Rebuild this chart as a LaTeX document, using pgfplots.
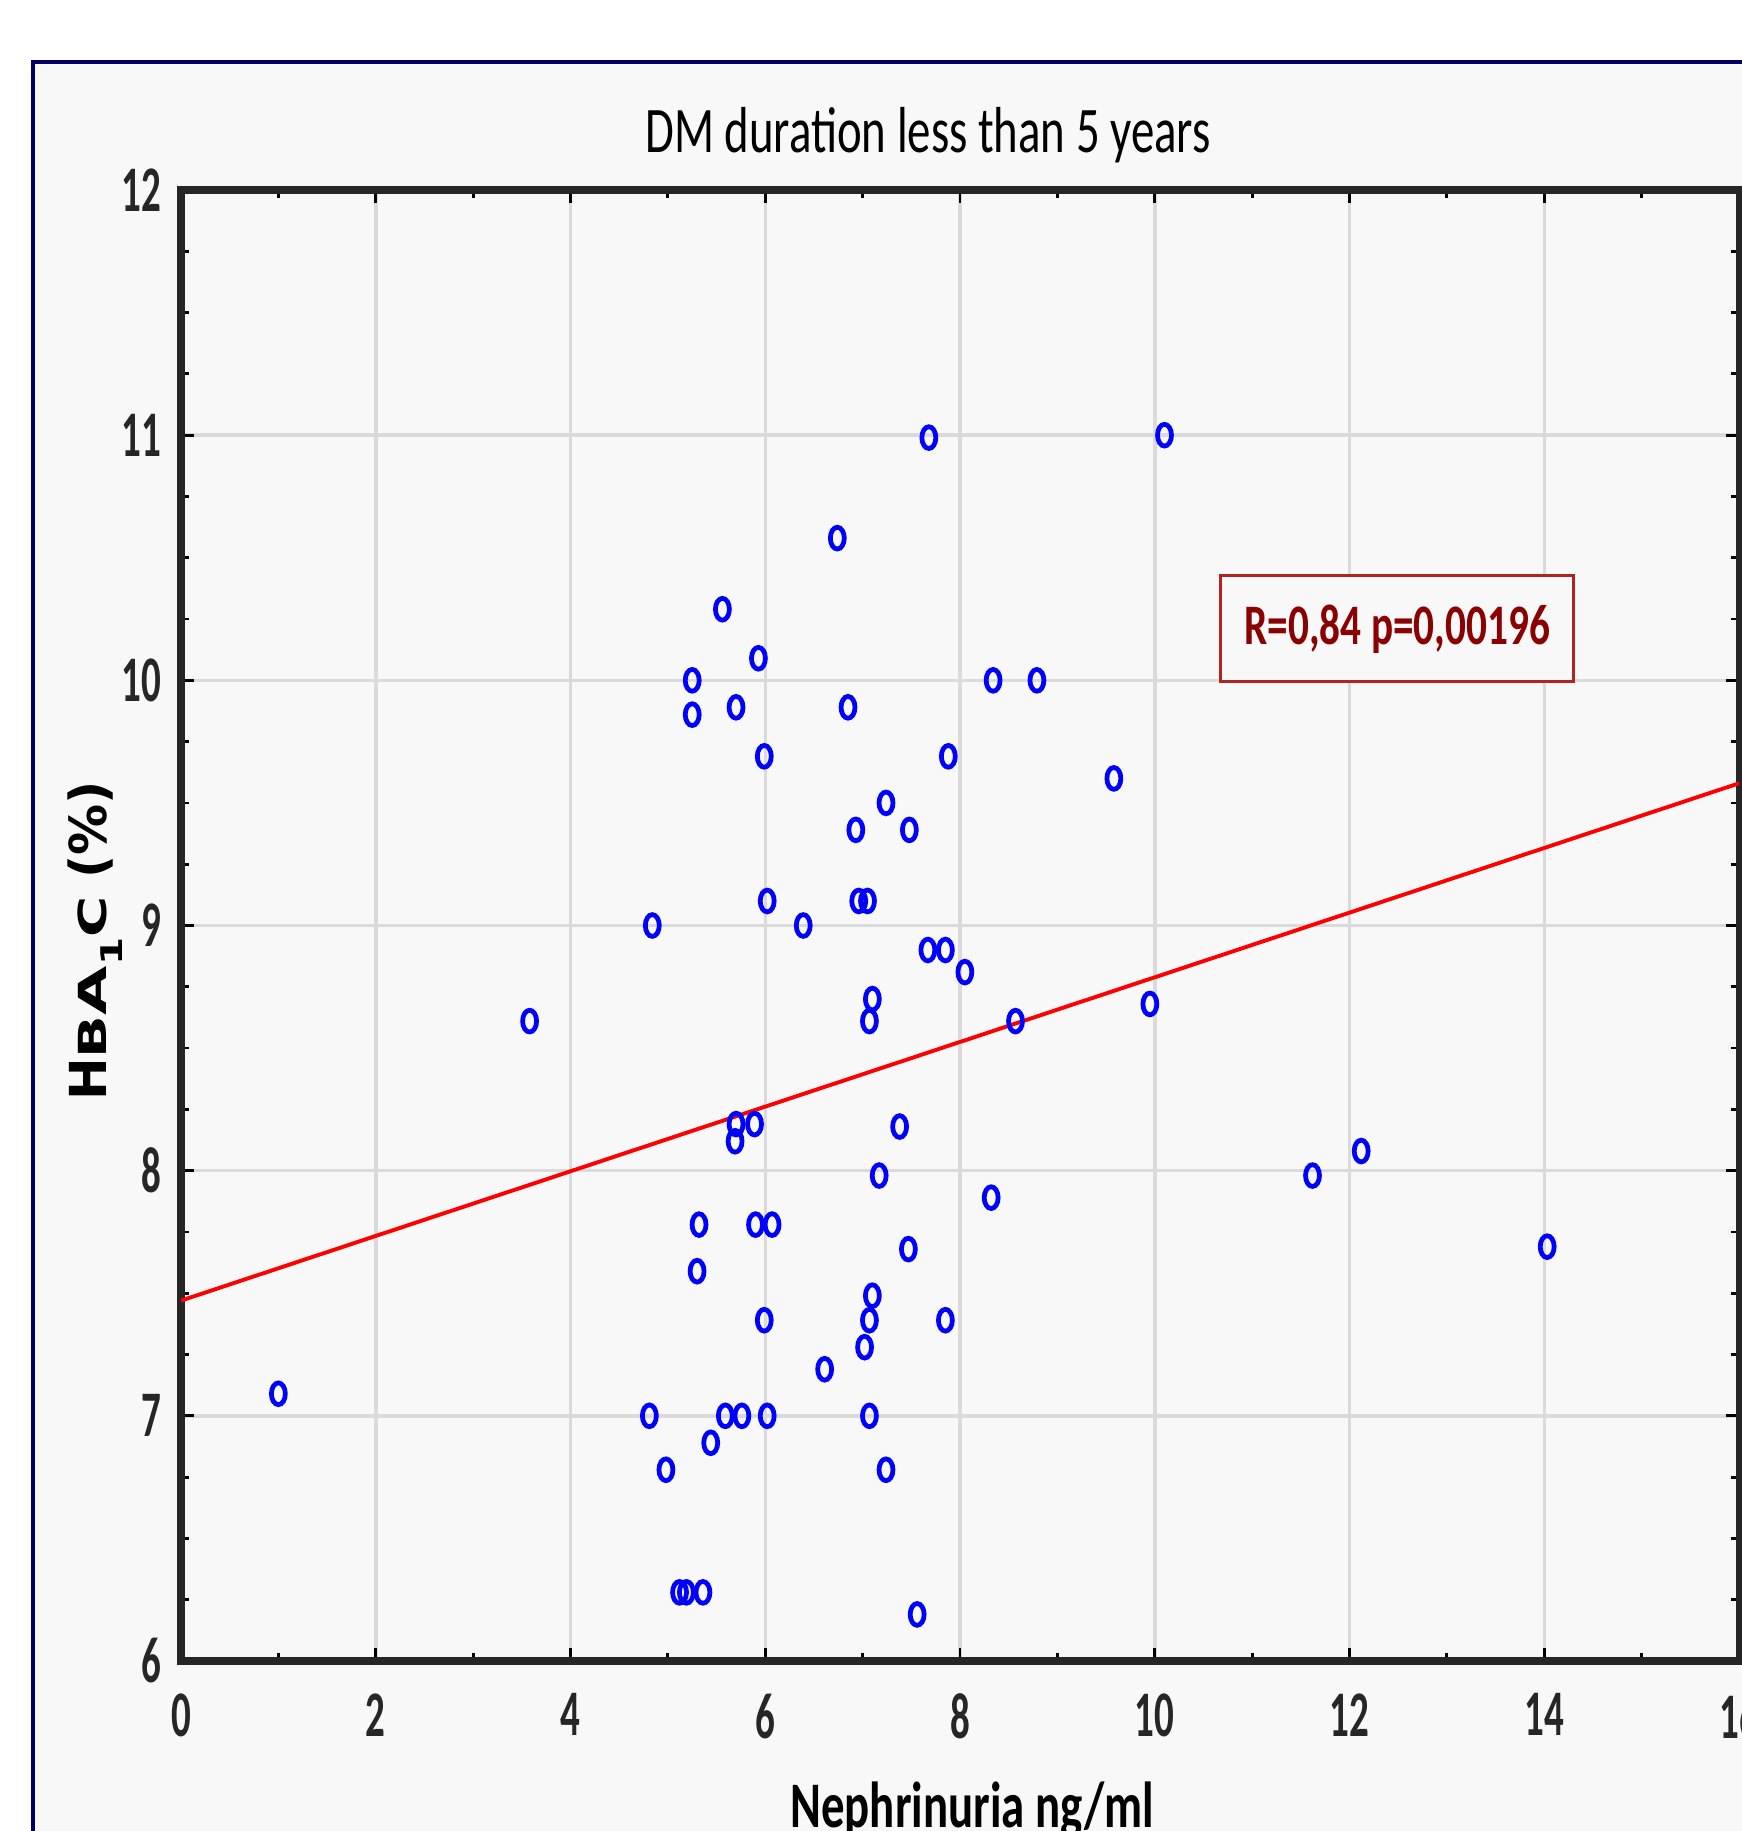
\documentclass[border=0pt]{standalone}
\usepackage{fontspec}
\usepackage{graphicx}
\usepackage{pgfplots}
\pgfplotsset{compat=1.18}
\setmainfont{Carlito}
\newfontfamily\narrow[FakeStretch=0.72]{Carlito}
\newfontfamily\ticknarrow[FakeStretch=0.6]{Carlito}
\newfontfamily\labelsans{DejaVu Sans}
\definecolor{frameblue}{HTML}{000066}
\definecolor{panel}{HTML}{F8F8F8}
\definecolor{gridgray}{HTML}{DADADA}
\definecolor{boxred}{HTML}{B22222}
\definecolor{textred}{HTML}{8B0000}

\pgfplotstableread{
x y
1.00 7.09
3.58 8.61
4.84 9.00
4.81 7.00
4.98 6.78
5.12 6.28
5.19 6.28
5.36 6.28
5.25 10.00
5.25 9.86
5.32 7.78
5.30 7.59
5.44 6.89
5.56 10.29
5.59 7.00
5.70 9.89
5.70 8.19
5.69 8.12
5.76 7.00
5.89 8.19
5.90 7.78
5.93 10.09
5.99 9.69
5.99 7.39
6.02 9.10
6.02 7.00
6.07 7.78
6.39 9.00
6.61 7.19
6.74 10.58
6.85 9.89
6.93 9.39
6.96 9.10
7.02 7.28
7.05 9.10
7.07 8.61
7.07 7.39
7.07 7.00
7.10 8.70
7.10 7.49
7.17 7.98
7.24 9.50
7.24 6.78
7.38 8.18
7.47 7.68
7.48 9.39
7.56 6.19
7.67 8.90
7.68 10.99
7.85 8.90
7.85 7.39
7.88 9.69
8.05 8.81
8.32 7.89
8.34 10.00
8.57 8.61
8.79 10.00
9.58 9.60
9.95 8.68
10.10 11.00
11.62 7.98
12.12 8.08
14.03 7.69
}\nephrin

\begin{document}
\begin{tikzpicture}
\useasboundingbox (-1.81,-1.70) rectangle (15.61,16.61);
\clip (-1.81,-1.70) rectangle (15.61,16.61);
\fill[panel] (-1.48,-1.80) rectangle (15.70,15.99);
\draw[frameblue, line width=1.2pt] (-1.48,-1.80) -- (-1.48,15.99) -- (15.70,15.99);
\begin{axis}[
  at={(0cm,0cm)}, anchor=south west,
  scale only axis, width=15.58cm, height=14.71cm,
  xmin=0, xmax=16, ymin=6, ymax=12,
  xtick={0,2,...,16}, ytick={6,7,...,12},
  minor x tick num=1, minor y tick num=3,
  grid=major, major grid style={gridgray, line width=1pt},
  axis line style={black!85, line width=2pt},
  major tick length=0.13cm, minor tick length=0.08cm,
  tick style={black, line width=0.8pt},
  /pgf/number format/assume math mode=true,
  ticklabel style={font=\ticknarrow\bfseries\fontsize{18.5}{20}\selectfont, text=black!85},
  xticklabel style={anchor=north, inner sep=0pt, yshift=-0.32cm},
  yticklabel style={anchor=east, inner sep=0pt, xshift=-0.19cm},
]
\addplot[only marks, mark=o, color=blue, mark size=3.1pt,
  mark options={xscale=0.64, line width=1.35pt}] table[x=x, y=y] {\nephrin};
% regression line
\addplot[red, line width=1.1pt, no marks] coordinates {(0,7.47) (16,9.58)};
\node[draw=boxred, line width=0.85pt, fill=panel, text=textred,
  minimum width=3.53cm, minimum height=1.06cm, inner sep=0pt,
  font=\narrow\bfseries\fontsize{16.3}{18}\selectfont]
  at (axis cs:12.49,10.21) {R=0,84 p=0,00196};
\end{axis}
\node[anchor=base, font=\narrow\fontsize{18.5}{20}\selectfont] at (7.47,15.08) {DM duration less than 5 years};
\node[anchor=base, font=\narrow\bfseries\fontsize{18.5}{20}\selectfont] at (7.91,-1.66) {Nephrinuria ng/ml};
\node[anchor=base, rotate=90, font=\labelsans\bfseries\fontsize{14.5}{16}\selectfont] at (-0.74,7.2)
  {H{\fontsize{11}{12}\selectfont\scalebox{1.45}[1]{B}\scalebox{1.65}[1]{A}}\raisebox{-0.3em}{\fontsize{8.5}{10}\selectfont\scalebox{1.35}[1]{1}}{\fontsize{11}{12}\selectfont\scalebox{1.45}[1]{C}} (\%)};
\end{tikzpicture}
\end{document}
